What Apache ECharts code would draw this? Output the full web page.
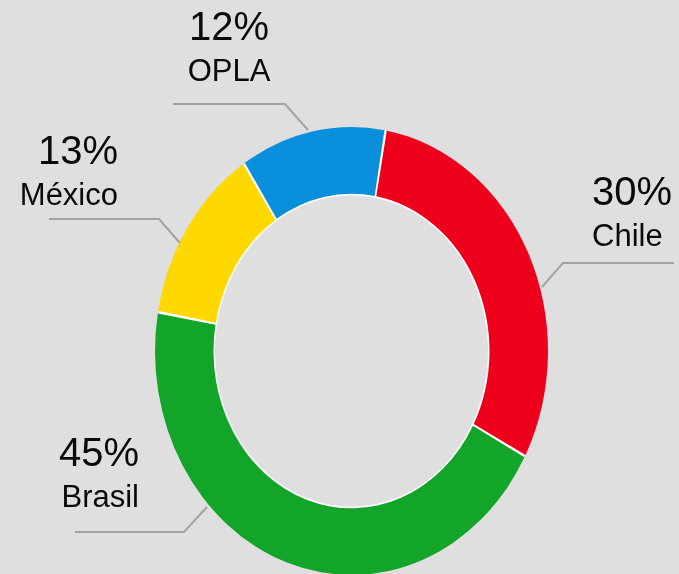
<!DOCTYPE html>
<html>
<head>
<meta charset="utf-8">
<script src="https://cdn.jsdelivr.net/npm/echarts@6/dist/echarts.min.js"></script>
<style>
html, body { margin: 0; width: 679px; height: 574px; overflow: hidden; background: #dfdfdf; }
#ring { position: absolute; left: 0; top: 0; width: 679px; height: 574px; transform: scaleY(1.14); transform-origin: 0 0; }
#labels { position: absolute; left: 0; top: 0; width: 679px; height: 574px; }
</style>
</head>
<body>
<div id="ring"></div>
<div id="labels"></div>
<script>
// values
const categories = ['Chile', 'Brasil', 'México', 'OPLA'];
const shares = [30, 45, 13, 12];
const sliceColors = ['#ee001c', '#12a52a', '#ffd800', '#0a8fdc'];

// where each label + its leader line sits (layout only)
const labelSpots = [
  { x: 592, y: 171, align: 'left', line: [[542, 287], [563, 263], [674, 263]] },
  { x: 139, y: 432, align: 'right', line: [[207, 507], [184, 532], [75, 532]] },
  { x: 118, y: 130, align: 'right', line: [[180, 243], [159, 219], [49, 219]] },
  { x: 229, y: 6, align: 'center', line: [[308, 130], [285, 104], [173, 104]] }
];

const SCALE_Y = 1.14;
const CENTER = [351.5, 351 / SCALE_Y];
const pieData = categories.map((name, i) => ({
  name: name,
  value: shares[i],
  itemStyle: { color: sliceColors[i] }
}));

// ring, stretched vertically with css to get the oval look
let ringChart = echarts.init(document.getElementById('ring'), null, { renderer: 'svg' });
ringChart.setOption({
  animation: false,
  series: [
    {
      // white ring behind so the gaps between slices read white
      type: 'pie',
      silent: true,
      center: CENTER,
      radius: [136.5, 195.5],
      label: { show: false },
      labelLine: { show: false },
      itemStyle: { color: '#ffffff' },
      data: [{ name: 'bg', value: 1 }]
    },
    {
      type: 'pie',
      silent: true,
      center: CENTER,
      radius: [138, 196.5],
      startAngle: 80,
      clockwise: true,
      padAngle: 0.7,
      label: { show: false },
      labelLine: { show: false },
      data: pieData
    }
  ]
});

// labels on an unscaled layer so the text is not stretched
let labelChart = echarts.init(document.getElementById('labels'));
labelChart.setOption({
  animation: false,
  series: [
    {
      type: 'pie',
      silent: true,
      center: [351.5, 351],
      radius: [138, 196.5],
      startAngle: 80,
      itemStyle: { color: 'rgba(0,0,0,0)' },
      label: {
        show: true,
        position: 'outside',
        color: '#0a0a0a',
        fontFamily: 'Liberation Sans, Arial, sans-serif',
        formatter: (p) => '{p|' + p.value + '%}\n{n|' + p.name + '}',
        rich: {
          p: { fontSize: 40, lineHeight: 46, color: '#0a0a0a', fontFamily: 'Liberation Sans, Arial, sans-serif' },
          n: { fontSize: 31, lineHeight: 41, color: '#0a0a0a', fontFamily: 'Liberation Sans, Arial, sans-serif' }
        }
      },
      labelLine: {
        show: true,
        smooth: false,
        lineStyle: { color: '#a3a3a3', width: 2 }
      },
      labelLayout: function (params) {
        const s = labelSpots[params.dataIndex];
        return {
          x: s.x,
          y: s.y,
          align: s.align,
          verticalAlign: 'top',
          labelLinePoints: s.line
        };
      },
      data: categories.map((name, i) => ({ name: name, value: shares[i] }))
    }
  ]
});
</script>
</body>
</html>
